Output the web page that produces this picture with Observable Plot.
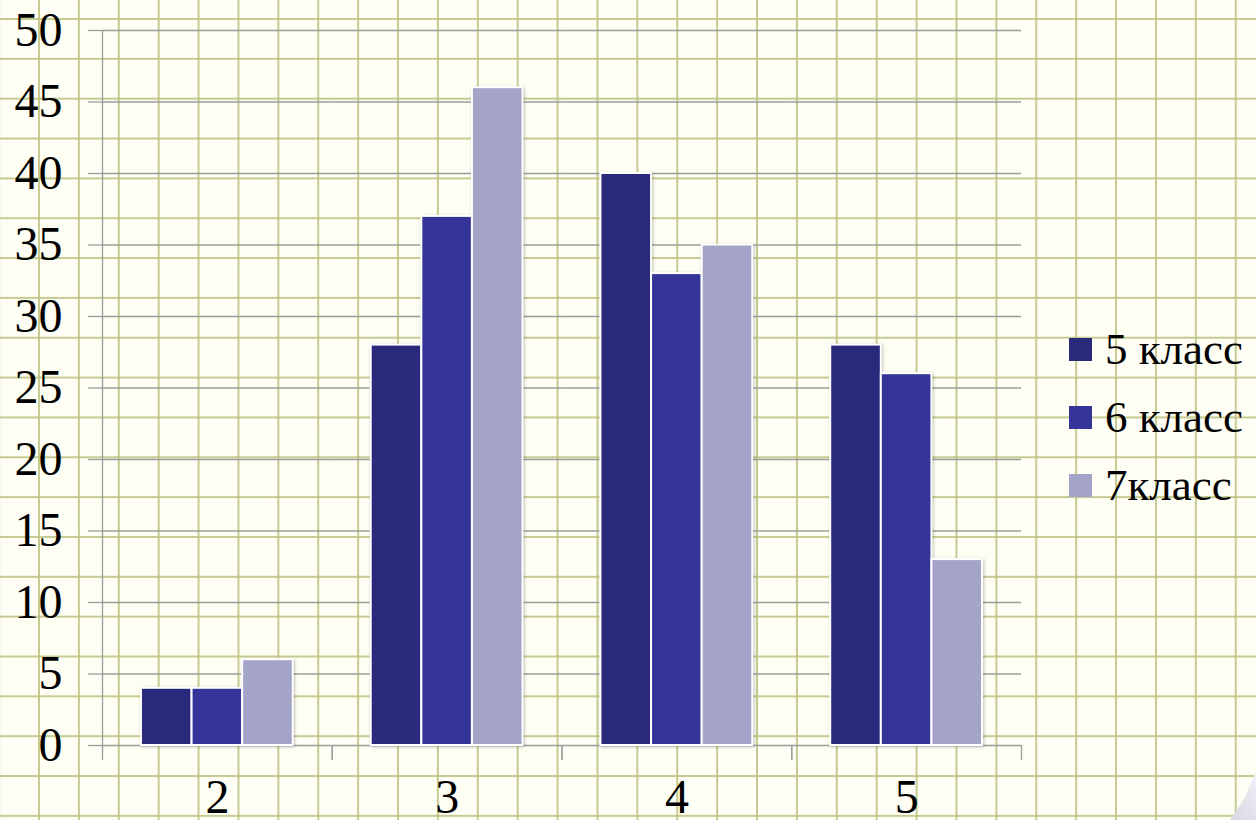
<!DOCTYPE html>
<html>
<head>
<meta charset="utf-8">
<script src="https://cdn.jsdelivr.net/npm/d3@7"></script>
<script src="https://cdn.jsdelivr.net/npm/@observablehq/plot@0.6"></script>
<style>
html, body { margin: 0; padding: 0; }
body {
  width: 1256px; height: 820px; overflow: hidden; position: relative;
  background-color: #fefef4;
  background-image:
    linear-gradient(to right, rgba(188,194,128,0.85) 2px, transparent 2px),
    linear-gradient(to bottom, rgba(188,194,128,0.85) 2px, transparent 2px);
  background-size: 39.9px 39.85px;
  background-position: 38px 18px;
  font-family: "Liberation Serif", "DejaVu Serif", serif;
}
#chart { position: absolute; left: 0; top: 0; }
#legend { position: absolute; left: 1069px; top: 330px; }
.item { display: flex; align-items: center; height: 38px; margin-bottom: 30px; font-size: 45px; color: #000; white-space: nowrap; }
.sw { width: 23px; height: 23px; margin-right: 13px; flex: none; }
#curl {
  position: absolute; right: 0; bottom: 0; width: 26px; height: 48px;
  background: linear-gradient(225deg, #f2f2f8, #d8d8e4);
  clip-path: polygon(100% 0, 100% 100%, 0 100%, 55% 55%);
}
g[aria-label="bar"] { filter: drop-shadow(1px 1px 1.5px rgba(0,0,0,0.25)); }
</style>
</head>
<body>
<div id="chart"></div>
<div id="legend"></div>
<div id="curl"></div>
<script>
const categories = ["2", "3", "4", "5"];
const series = ["5 класс", "6 класс", "7класс"];
const values5 = [4, 28, 40, 28];
const values6 = [4, 37, 33, 26];
const values7 = [6, 46, 35, 13];
const yTicks = [0, 5, 10, 15, 20, 25, 30, 35, 40, 45, 50];
const colors = ["#2a2a7c", "#343499", "#a3a4c7"];

const valuesBySeries = [values5, values6, values7];
const data = categories.flatMap((c, i) =>
  series.map((s, j) => ({cat: c, series: s, value: valuesBySeries[j][i]}))
);

const W = 1256, H = 820, mL = 102, mR = 235, mT = 30, mB = 75;
const facetW = (W - mL - mR) / categories.length;
const xPadOuter = 0.77;
const xStep = facetW / (series.length + 2 * xPadOuter);
const gridColor = "#9c9c9c";

const chart = Plot.plot({
  width: W, height: H,
  marginLeft: mL, marginRight: mR, marginTop: mT, marginBottom: mB,
  style: {background: "transparent", fontFamily: "'Liberation Serif', serif", color: "black", overflow: "visible"},
  fx: {domain: categories, padding: 0, round: false, axis: null},
  x: {domain: series, paddingInner: 0, paddingOuter: xPadOuter, round: false, axis: null},
  y: {domain: [0, 50], axis: null},
  color: {domain: series, range: colors},
  marks: [
    Plot.ruleY(yTicks, {stroke: gridColor, strokeWidth: 1.3}),
    // vertical axis line at the left edge of the first group
    Plot.ruleX([{cat: categories[0], s: series[0]}], {fx: "cat", x: "s", y1: yTicks[0], y2: yTicks[yTicks.length - 1], dx: -(xStep * xPadOuter + xStep / 2), stroke: gridColor, strokeWidth: 1.3}),
    Plot.axisY({ticks: yTicks, tickSize: 14, tickPadding: 26, fontSize: 48, stroke: gridColor, strokeWidth: 1.3, fill: "black", label: null}),
    Plot.axisFx({anchor: "bottom", tickSize: 15, tickFormat: () => "", dx: -facetW / 2, stroke: gridColor, strokeWidth: 1.3, label: null}),
    Plot.axisFx([categories[categories.length - 1]], {anchor: "bottom", tickSize: 15, tickFormat: () => "", dx: facetW / 2, stroke: gridColor, strokeWidth: 1.3, label: null}),
    Plot.axisFx({anchor: "bottom", tickSize: 0, tickPadding: 33, fontSize: 48, fill: "black", label: null}),
    Plot.barY(data, {fx: "cat", x: "series", y: "value", fill: "series", stroke: "white", strokeWidth: 2})
  ]
});
document.getElementById("chart").appendChild(chart);

const legend = document.getElementById("legend");
series.forEach((s, i) => {
  const item = document.createElement("div");
  item.className = "item";
  const sw = document.createElement("span");
  sw.className = "sw";
  sw.style.background = colors[i];
  const t = document.createElement("span");
  t.textContent = s;
  item.appendChild(sw);
  item.appendChild(t);
  legend.appendChild(item);
});
</script>
</body>
</html>
